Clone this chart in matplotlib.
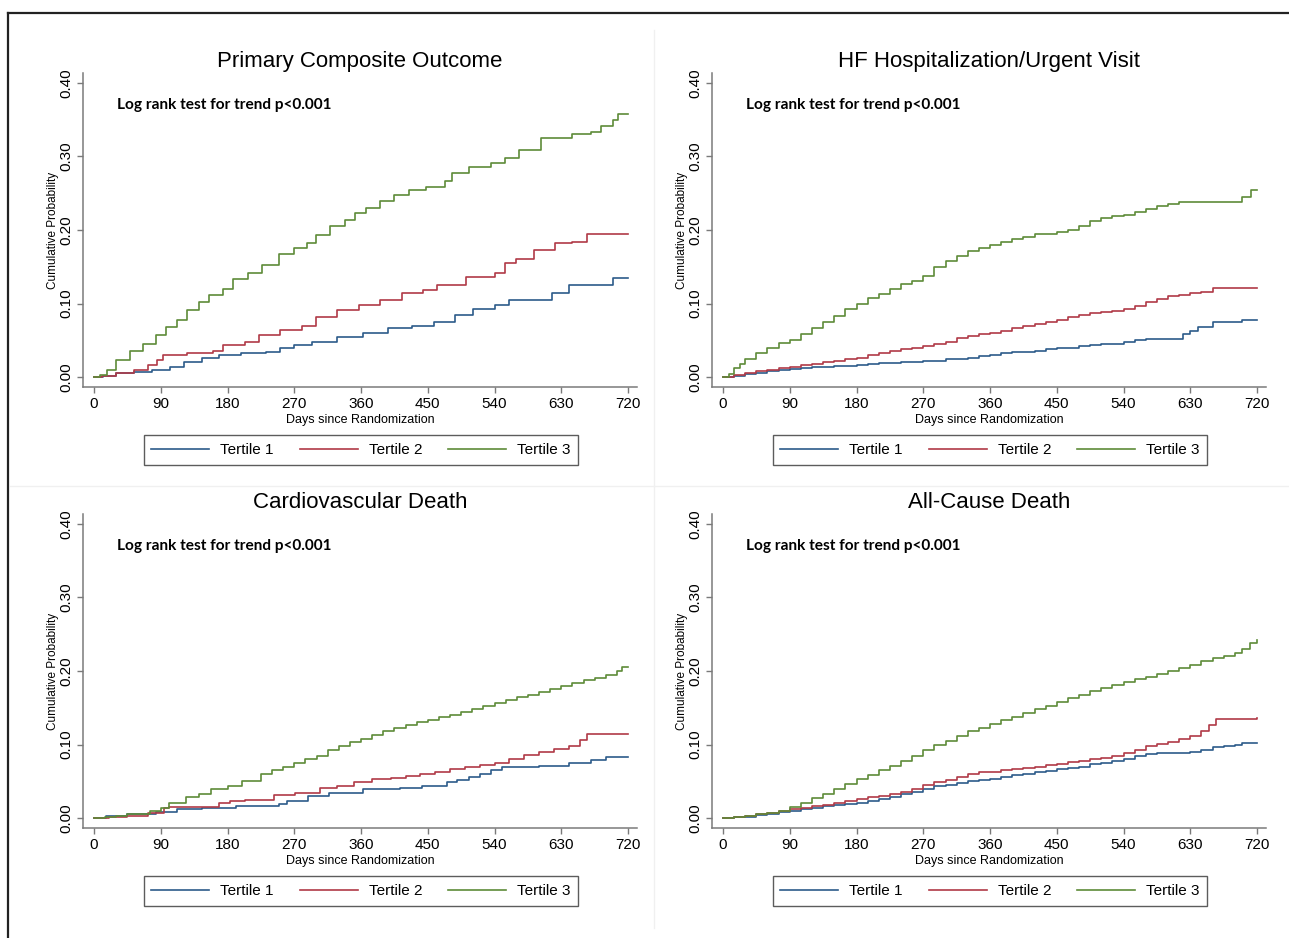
import matplotlib
matplotlib.use("Agg")
import matplotlib.pyplot as plt
from matplotlib.lines import Line2D

plt.rcParams['font.family'] = ['Liberation Sans', 'DejaVu Sans']

# ---------------- data ----------------
titles = ["Primary Composite Outcome", "HF Hospitalization/Urgent Visit",
          "Cardiovascular Death", "All-Cause Death"]
series_labels = ["Tertile 1", "Tertile 2", "Tertile 3"]
x_ticks = [0, 90, 180, 270, 360, 450, 540, 630, 720]
y_ticks = [0.00, 0.10, 0.20, 0.30, 0.40]
annotation = "Log rank test for trend p<0.001"

# Primary composite outcome
pc_t1_days = [0, 12, 30, 54, 78, 102, 121, 145, 169, 198, 232, 251, 270, 294, 328, 362, 396, 429, 458, 487, 511, 540, 559, 607, 617, 641, 689, 699, 720]
pc_t1_vals = [0, .002, .005, .007, .010, .014, .020, .026, .030, .032, .034, .039, .043, .048, .055, .060, .066, .070, .075, .084, .093, .098, .105, .105, .114, .125, .125, .135, .135]
pc_t2_days = [0, 11, 30, 54, 73, 85, 93, 126, 160, 174, 203, 222, 251, 280, 299, 328, 357, 386, 415, 444, 463, 501, 540, 554, 569, 593, 622, 645, 665, 720]
pc_t2_vals = [0, .002, .005, .009, .016, .023, .030, .032, .036, .043, .048, .057, .064, .070, .082, .091, .098, .105, .114, .118, .125, .136, .141, .155, .161, .173, .182, .184, .195, .195]
pc_t3_days = [0, 8, 18, 30, 49, 66, 83, 97, 112, 126, 141, 155, 174, 188, 207, 227, 249, 270, 287, 299, 318, 338, 352, 367, 386, 405, 424, 448, 473, 482, 506, 535, 554, 573, 602, 622, 645, 670, 684, 699, 706, 720]
pc_t3_vals = [0, .003, .009, .023, .036, .045, .057, .068, .077, .091, .102, .111, .120, .134, .141, .152, .168, .175, .182, .193, .205, .214, .223, .230, .240, .248, .255, .259, .266, .277, .286, .291, .298, .309, .325, .325, .330, .334, .341, .350, .358, .358]

# HF hospitalization / urgent visit
hf_t1_days = [0, 15, 30, 45, 60, 75, 90, 105, 120, 150, 180, 195, 210, 240, 270, 300, 330, 345, 360, 375, 390, 420, 435, 450, 480, 495, 510, 540, 555, 570, 610, 620, 630, 640, 660, 700, 720]
hf_t1_vals = [0, .002, .004, .006, .008, .010, .011, .012, .013, .015, .016, .018, .019, .021, .022, .024, .026, .028, .030, .032, .034, .036, .038, .040, .042, .044, .045, .048, .050, .052, .052, .058, .062, .068, .075, .078, .078]
hf_t2_days = [0, 15, 30, 45, 60, 75, 90, 105, 120, 135, 150, 165, 180, 195, 210, 225, 240, 255, 270, 285, 300, 315, 330, 345, 360, 375, 390, 405, 420, 435, 450, 465, 480, 495, 510, 525, 540, 555, 570, 585, 600, 615, 630, 645, 660, 720]
hf_t2_vals = [0, .003, .005, .008, .010, .012, .014, .016, .018, .020, .022, .024, .026, .030, .033, .036, .038, .040, .042, .045, .048, .053, .056, .058, .060, .063, .066, .069, .072, .075, .078, .082, .085, .087, .088, .090, .092, .097, .102, .106, .110, .112, .114, .116, .121, .121]
hf_t3_days = [0, 8, 15, 23, 30, 45, 60, 75, 90, 105, 120, 135, 150, 165, 180, 195, 210, 225, 240, 255, 270, 285, 300, 315, 330, 345, 360, 375, 390, 405, 420, 435, 450, 465, 480, 495, 510, 525, 540, 555, 570, 585, 600, 615, 690, 700, 712, 720]
hf_t3_vals = [0, .004, .012, .018, .025, .033, .040, .046, .051, .058, .066, .075, .083, .092, .100, .107, .113, .120, .126, .131, .138, .150, .158, .165, .171, .176, .179, .184, .188, .191, .194, .195, .197, .200, .206, .212, .217, .219, .220, .224, .228, .232, .236, .238, .238, .245, .254, .254]

# Cardiovascular death
cv_t1_days = [0, 16, 44, 84, 112, 146, 192, 249, 260, 288, 317, 362, 413, 442, 476, 490, 505, 520, 535, 550, 600, 640, 670, 690, 720]
cv_t1_vals = [0, .003, .005, .008, .012, .014, .016, .019, .023, .030, .034, .039, .041, .044, .049, .052, .056, .060, .065, .070, .071, .075, .079, .083, .083]
cv_t2_days = [0, 20, 44, 73, 95, 101, 158, 169, 183, 203, 243, 271, 305, 328, 351, 375, 400, 420, 440, 460, 480, 500, 520, 540, 560, 580, 600, 620, 640, 655, 665, 720]
cv_t2_vals = [0, .001, .003, .007, .013, .015, .015, .020, .023, .025, .031, .034, .041, .044, .049, .053, .055, .057, .060, .063, .066, .069, .072, .075, .080, .086, .090, .094, .098, .106, .114, .114]
cv_t3_days = [0, 15, 30, 45, 60, 75, 90, 101, 124, 141, 158, 180, 200, 225, 240, 255, 270, 285, 300, 315, 330, 345, 360, 375, 390, 405, 420, 435, 450, 465, 480, 495, 510, 525, 540, 555, 570, 585, 600, 615, 630, 645, 660, 675, 690, 705, 712, 720]
cv_t3_vals = [0, .002, .003, .005, .006, .009, .013, .020, .028, .032, .039, .043, .050, .060, .065, .070, .075, .080, .085, .092, .098, .103, .108, .113, .118, .123, .127, .131, .134, .137, .140, .144, .148, .152, .156, .161, .165, .168, .172, .176, .180, .184, .188, .191, .195, .200, .205, .205]

# All-cause death
ac_t1_days = [0, 15, 30, 45, 60, 75, 90, 105, 120, 135, 150, 165, 180, 195, 210, 225, 240, 255, 270, 285, 300, 315, 330, 345, 360, 375, 390, 405, 420, 435, 450, 465, 480, 495, 510, 525, 540, 555, 570, 585, 630, 645, 660, 675, 690, 700, 720]
ac_t1_vals = [0, .001, .002, .004, .006, .008, .010, .012, .014, .016, .018, .019, .020, .023, .026, .029, .032, .036, .040, .043, .045, .048, .050, .052, .053, .056, .058, .060, .062, .064, .066, .068, .070, .073, .075, .078, .080, .084, .087, .088, .090, .093, .096, .098, .100, .102, .102]
ac_t2_days = [0, 15, 30, 45, 60, 75, 90, 105, 120, 135, 150, 165, 180, 195, 210, 225, 240, 255, 270, 285, 300, 315, 330, 345, 360, 375, 390, 405, 420, 435, 450, 465, 480, 495, 510, 525, 540, 555, 570, 585, 600, 615, 630, 645, 655, 665, 720]
ac_t2_vals = [0, .001, .003, .005, .007, .009, .012, .014, .016, .018, .020, .023, .026, .028, .030, .033, .036, .040, .045, .049, .052, .056, .060, .062, .063, .065, .066, .068, .070, .072, .074, .076, .078, .080, .082, .085, .088, .093, .098, .101, .104, .108, .112, .118, .126, .135, .136]
ac_t3_days = [0, 15, 30, 45, 60, 75, 90, 105, 120, 135, 150, 165, 180, 195, 210, 225, 240, 255, 270, 285, 300, 315, 330, 345, 360, 375, 390, 405, 420, 435, 450, 465, 480, 495, 510, 525, 540, 555, 570, 585, 600, 615, 630, 645, 660, 675, 690, 700, 710, 720]
ac_t3_vals = [0, .002, .003, .005, .007, .010, .015, .021, .027, .033, .040, .046, .053, .059, .065, .071, .078, .085, .092, .099, .105, .112, .118, .123, .128, .133, .138, .143, .148, .153, .158, .163, .168, .173, .177, .181, .185, .189, .192, .196, .200, .204, .208, .213, .218, .221, .225, .230, .238, .242]

panels = [
    [(pc_t1_days, pc_t1_vals), (pc_t2_days, pc_t2_vals), (pc_t3_days, pc_t3_vals)],
    [(hf_t1_days, hf_t1_vals), (hf_t2_days, hf_t2_vals), (hf_t3_days, hf_t3_vals)],
    [(cv_t1_days, cv_t1_vals), (cv_t2_days, cv_t2_vals), (cv_t3_days, cv_t3_vals)],
    [(ac_t1_days, ac_t1_vals), (ac_t2_days, ac_t2_vals), (ac_t3_days, ac_t3_vals)],
]

# ---------------- style ----------------
colors = ['#2c5b8a', '#b03a47', '#5e8b38']
W, H = 1289, 938
fig = plt.figure(figsize=(W / 100, H / 100), dpi=100)

ax_w, ax_h = 637 - 83, 387 - 73
origins = [(83, 73), (712, 73), (83, 514), (712, 514)]
spine_col = '#7a7a7a'

for i, (ox, oy) in enumerate(origins):
    ax = fig.add_axes([ox / W, 1 - (oy + ax_h) / H, ax_w / W, ax_h / H])
    for (d, v), c, lab in zip(panels[i], colors, series_labels):
        ax.step(d, v, where='post', color=c, lw=1.2, label=lab)
    ax.set_xlim(-14.8, 732)
    ax.set_ylim(-0.0136, 0.4136)
    ax.set_xticks(x_ticks)
    ax.set_yticks(y_ticks)
    ax.set_yticklabels([f"{t:.2f}" for t in y_ticks], rotation=90, va='center')
    ax.tick_params(axis='both', direction='out', length=4, width=1,
                   color=spine_col, labelsize=11, pad=3)
    for s in ['top', 'right']:
        ax.spines[s].set_visible(False)
    for s in ['left', 'bottom']:
        ax.spines[s].set_color(spine_col)
        ax.spines[s].set_linewidth(1.1)
    ax.set_facecolor('none')
    ax.set_title(titles[i], fontsize=16, pad=4)
    ax.set_xlabel("Days since Randomization", fontsize=9, labelpad=2)
    ax.set_ylabel("Cumulative Probability", fontsize=8.5, labelpad=0.5)
    ax.text(31, 0.370, annotation, fontsize=11.1, fontweight='bold',
            family=['Lato', 'DejaVu Sans'], ha='left', va='center')
    leg = fig.legend(*ax.get_legend_handles_labels(), loc='center', ncol=3,
                     bbox_to_anchor=((ox + 278) / W, 1 - (oy + 377) / H),
                     bbox_transform=fig.transFigure, fontsize=11,
                     handlelength=3.8, handletextpad=0.72, columnspacing=1.7,
                     frameon=True, fancybox=False, borderpad=0.5,
                     borderaxespad=0)
    leg.get_frame().set_edgecolor('#333333')
    leg.get_frame().set_linewidth(1.0)

# faint panel separators
fig.add_artist(Line2D([654 / W, 654 / W], [1 - 30 / H, 1 - 928 / H],
                      color='#f0f0f0', lw=1, transform=fig.transFigure))
fig.add_artist(Line2D([10 / W, 1], [1 - 486 / H, 1 - 486 / H],
                      color='#f0f0f0', lw=1, transform=fig.transFigure))
# black border (top and left)
fig.add_artist(Line2D([8 / W, 1], [1 - 13 / H, 1 - 13 / H],
                      color='#222222', lw=1.6, transform=fig.transFigure))
fig.add_artist(Line2D([8 / W, 8 / W], [1 - 13 / H, 0],
                      color='#222222', lw=1.6, transform=fig.transFigure))

fig.savefig("out.png", dpi=100)
